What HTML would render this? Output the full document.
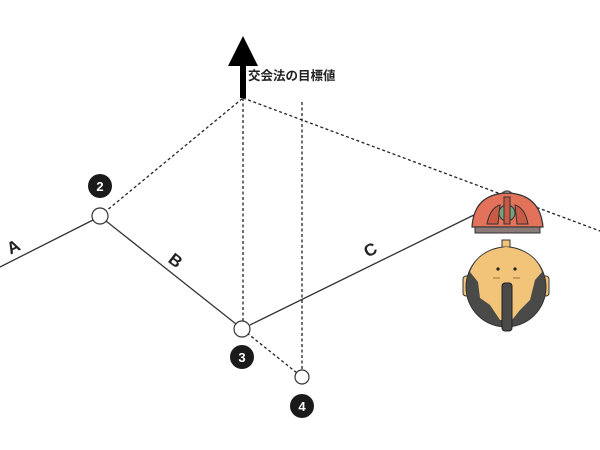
<!DOCTYPE html>
<html><head><meta charset="utf-8"><style>
html,body{margin:0;padding:0;background:#fff;width:600px;height:450px;overflow:hidden}
</style></head><body>
<svg width="600" height="450" viewBox="0 0 600 450" xmlns="http://www.w3.org/2000/svg">
<g stroke="#222" stroke-width="1.3" fill="none" stroke-dasharray="3,2.5">
<line x1="100" y1="216" x2="243" y2="98"/>
<line x1="243" y1="98" x2="600" y2="231"/>
<line x1="243" y1="98" x2="243" y2="322"/>
<line x1="302" y1="102" x2="302" y2="370"/>
<line x1="247" y1="333" x2="297" y2="373"/>
</g>
<g stroke="#333" stroke-width="1.3" fill="none">
<line x1="0" y1="267" x2="93" y2="220"/>
<line x1="106" y1="221" x2="236" y2="324"/>
<line x1="250" y1="325" x2="478" y2="213"/>
</g>
<polygon points="243,36 228,66 240,66 240,98 246,98 246,66 258,66" fill="#000"/>
<text x="248" y="80" font-family="Liberation Sans, Noto Sans CJK JP, sans-serif" font-size="12.5" font-weight="bold" fill="#222">交会法の目標値</text>
<g fill="#fff" stroke="#333" stroke-width="1.2">
<circle cx="100" cy="216" r="8"/>
<circle cx="242" cy="329" r="8"/>
<circle cx="302" cy="377" r="7"/>
</g>
<g fill="#1a1a1a"><circle cx="100" cy="186" r="12"/><circle cx="242" cy="357" r="12"/><circle cx="302" cy="406" r="12"/></g>
<g fill="#fff" font-family="Liberation Sans, sans-serif" font-weight="bold" font-size="13" text-anchor="middle">
<text x="100" y="191">2</text><text x="242" y="362">3</text><text x="302" y="411">4</text></g>
<g fill="#222" font-family="Liberation Sans, sans-serif" font-size="17" font-weight="bold" text-anchor="middle">
<text transform="translate(16,252) rotate(-27)">A</text>
<text transform="translate(172,265) rotate(38)">B</text>
<text transform="translate(373,255) rotate(-27)">C</text>
</g>
<!-- helmet -->
<path d="M499,197 Q507,185 515,197" fill="none" stroke="#555" stroke-width="1.5"/>
<path d="M472,227 Q474,194 507,193 Q540,194 543,227 Z" fill="#e2735a" stroke="#333" stroke-width="1.2"/>
<rect x="475" y="227" width="65" height="6" fill="#8a7a78" stroke="#333" stroke-width="1"/>
<path d="M487,224 Q490,208 500,205 L498,224 Z M528,224 Q525,208 515,205 L517,224 Z" fill="#c95a45" stroke="#333"/>
<circle cx="507" cy="213" r="8" fill="#7aa07a" stroke="#333"/>
<rect x="504" y="197" width="6" height="27" fill="#c95a45" stroke="#333"/>
<!-- head -->
<rect x="463" y="276" width="8" height="20" rx="3" fill="#f2c47a" stroke="#333"/>
<rect x="541" y="276" width="8" height="20" rx="3" fill="#f2c47a" stroke="#333"/>
<rect x="502" y="240" width="8" height="10" fill="#f2c47a" stroke="#333"/>
<circle cx="506" cy="287" r="40" fill="#4a4a48" stroke="#333"/>
<path d="M470,272 Q478,250 506,247 Q534,250 542,272 L535,280 L530,300 L520,310 L512,320 L500,320 L490,305 L480,298 L478,282 Z" fill="#f2c47a"/>
<circle cx="498" cy="269" r="1.6" fill="#222"/><circle cx="515" cy="269" r="1.6" fill="#222"/>
<line x1="493" y1="278" x2="500" y2="278" stroke="#a07040"/><line x1="513" y1="278" x2="520" y2="278" stroke="#a07040"/>
<rect x="502" y="283" width="10" height="48" rx="3" fill="#4a4a48" stroke="#222"/>
</svg>
</body></html>
